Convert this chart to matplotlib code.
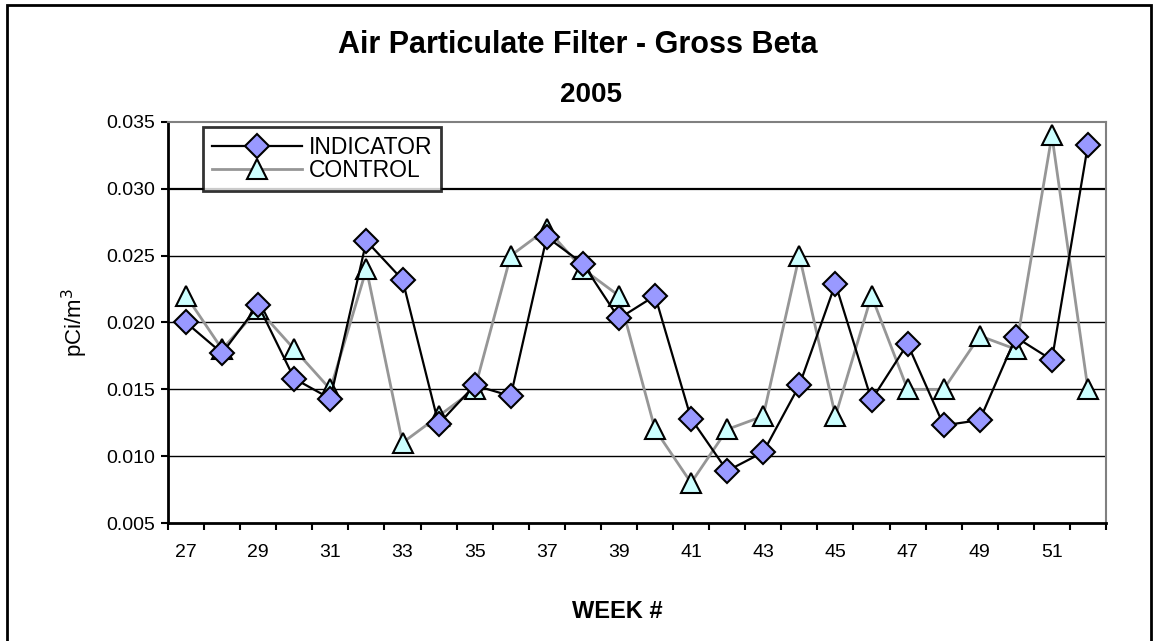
import numpy as np
import matplotlib
matplotlib.use('Agg')
import matplotlib.pyplot as plt
from matplotlib.patches import Rectangle

plt.rcParams['font.family'] = ['Liberation Sans', 'DejaVu Sans']

# weekly gross beta readings, pCi/m3
weeks = list(range(27, 53))
indicator = [0.0200, 0.0177, 0.0213, 0.0158, 0.0143, 0.0261, 0.0232, 0.0124,
             0.0153, 0.0145, 0.0264, 0.0244, 0.0203, 0.0220, 0.0128, 0.0089,
             0.0103, 0.0153, 0.0229, 0.0142, 0.0184, 0.0123, 0.0127, 0.0189,
             0.0172, 0.0333]
control = [0.022, 0.018, 0.021, 0.018, 0.015, 0.024, 0.011, 0.013,
           0.015, 0.025, 0.027, 0.024, 0.022, 0.012, 0.008, 0.012,
           0.013, 0.025, 0.013, 0.022, 0.015, 0.015, 0.019, 0.018,
           0.034, 0.015]
y_ticks = [0.005, 0.010, 0.015, 0.020, 0.025, 0.030, 0.035]

W, H = 1155, 641
fig = plt.figure(figsize=(W / 100, H / 100), dpi=100)
ax = fig.add_axes([168 / W, 1 - 523 / H, (1106 - 168) / W, (523 - 122) / H])

x = np.arange(len(weeks))

# gridlines
for v in y_ticks[1:-1]:
    ax.axhline(v, color='black', lw=1.6 if v == 0.030 else 1.0, zorder=1)

ax.plot(x, control, color='#969696', lw=2, marker='^', markersize=15,
        markerfacecolor='#CCFFFF', markeredgecolor='black', markeredgewidth=1.5,
        label='CONTROL', zorder=3)
ax.plot(x, indicator, color='black', lw=1.6, marker='D', markersize=12,
        markerfacecolor='#9999FF', markeredgecolor='black', markeredgewidth=1.5,
        label='INDICATOR', zorder=4)

ax.set_xlim(-0.5, len(weeks) - 0.5)
ax.set_ylim(0.005, 0.035)
ax.set_yticks(y_ticks)
ax.set_yticklabels([f'{v:.3f}' for v in y_ticks])

# tick marks on category boundaries, labels on every other week
ax.set_xticks(np.arange(-0.5, len(weeks), 1))
ax.set_xticklabels([])
ax.set_xticks(x[::2], minor=True)
ax.set_xticklabels([str(w) for w in weeks[::2]], minor=True)
ax.tick_params(axis='x', which='major', direction='out', length=5, width=1.5)
ax.tick_params(axis='x', which='minor', length=0, pad=15, labelsize=14)
ax.tick_params(axis='y', direction='out', length=5, width=1.5, pad=4, labelsize=14)

for s in ['left', 'bottom']:
    ax.spines[s].set_linewidth(2)
    ax.spines[s].set_color('black')
for s in ['top', 'right']:
    ax.spines[s].set_linewidth(1.5)
    ax.spines[s].set_color('#808080')

ax.set_ylabel('pCi/m$^3$', fontsize=16)
ax.yaxis.set_label_coords(-0.083, 0.5)

h, l = ax.get_legend_handles_labels()
leg = ax.legend(h[::-1], l[::-1], loc='upper left',
                bbox_to_anchor=((203 - 168) / 938, (523 - 127) / 401),
                fontsize=16.5, frameon=True, fancybox=False, borderpad=0.4,
                labelspacing=0.0, handlelength=3.9, handletextpad=0.3,
                borderaxespad=0)
leg.get_frame().set_edgecolor('black')
leg.get_frame().set_linewidth(2)

fig.text(578 / W, 1 - 45 / H, 'Air Particulate Filter - Gross Beta',
         ha='center', va='center', fontsize=22, fontweight='bold')
fig.text(591 / W, 1 - 95 / H, '2005', ha='center', va='center',
         fontsize=20, fontweight='bold')
fig.text(617 / W, 1 - 612 / H, 'WEEK #', ha='center', va='center',
         fontsize=17, fontweight='bold')

# chart area border
fig.patches.append(Rectangle((7 / W, -0.05), (1151 - 7) / W, 1.05 - 5 / H,
                             transform=fig.transFigure, fill=False,
                             edgecolor='black', lw=2))

fig.savefig('out.png', dpi=100)
